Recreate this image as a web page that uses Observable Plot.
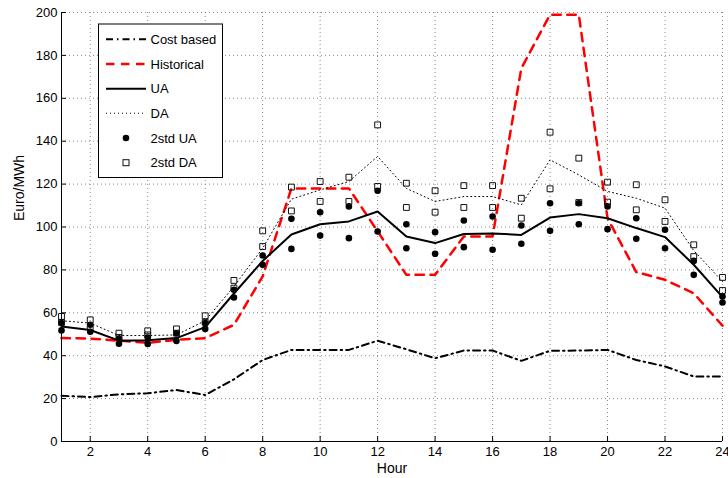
<!DOCTYPE html>
<html>
<head>
<meta charset="utf-8">
<script src="https://cdn.jsdelivr.net/npm/d3@7"></script>
<script src="https://cdn.jsdelivr.net/npm/@observablehq/plot@0.6"></script>
<style>
  html, body { margin: 0; padding: 0; background: #fff; }
  #chart { width: 728px; height: 478px; }
</style>
</head>
<body>
<div id="chart"></div>
<script>
const hours = [1,2,3,4,5,6,7,8,9,10,11,12,13,14,15,16,17,18,19,20,21,22,23,24];
const costBased = [21.3,20.7,22,22.5,24,21.7,29,38,42.7,42.7,42.7,47,43,38.8,42.4,42.4,37.6,42.3,42.4,42.7,38,35,30.3,30.3];
const historical = [48.2,48,47,46,47.4,48.2,54.4,77,118,118,118,98,77.7,77.7,95.6,95.6,174,199,199,104,79,75.4,69.1,54];
const ua = [53.6,52,47,47.2,48.2,53.3,69,84.2,96.5,101.3,102.6,107.2,95.6,92.5,96.7,97,96.3,104.4,106,104.1,99.5,95.3,82.4,67.3];
const da = [56.3,55.2,49.4,49.4,49.7,56.3,72.3,90.1,113,117.3,121.2,132.9,118,111.9,114.2,114.2,110.3,131.3,124.3,116.6,113.4,108.8,89,74.6];
const ua2Upper = [55.2,54.4,47.9,48.5,50.5,55.2,70.7,86.7,103.8,106.9,109.6,116.9,101.3,97.6,103,104.9,100.7,111.1,111.1,109.6,104.1,98.7,84.2,67.6];
const ua2Lower = [51.8,51.2,45.6,45.5,46.9,52.5,67.1,82.4,89.8,96,94.8,97.9,90.1,87.5,90.6,89.4,92.2,98.2,101.3,99,94.5,90.1,77.7,64.8];
const da2Upper = [58.3,56.7,50.5,51.6,52.5,58.6,75.1,98.2,118.6,121.2,123.2,147.6,120.4,116.9,119.3,119.3,113.4,144.2,132.1,120.9,119.7,112.7,91.7,76.5];
const da2Lower = [55.5,53.5,48.5,49.7,50.5,55.6,71.5,90.9,107.5,111.9,111.9,118.9,109.1,106.9,109.1,109.1,104.1,117.8,111.4,111.6,108,102.6,86.2,70.4];
const xTicks = [2,4,6,8,10,12,14,16,18,20,22,24];
const yTicks = [0,20,40,60,80,100,120,140,160,180,200];
const legendLabels = ["Cost based","Historical","UA","DA","2std UA","2std DA"];
const xLabel = "Hour";
const yLabel = "Euro/MWh";

const rows = hours.map((h, i) => ({hour: h, cost: costBased[i], hist: historical[i], ua: ua[i], da: da[i]}));
const pts = (arr) => hours.map((h, i) => ({hour: h, v: arr[i]}));
const uaPts = pts(ua2Upper).concat(pts(ua2Lower));
const daPts = pts(da2Upper).concat(pts(da2Lower));

const font = "'Liberation Sans', Arial, Helvetica, sans-serif";

const chart = Plot.plot({
  width: 728,
  height: 478,
  marginLeft: 61,
  marginRight: 6,
  marginTop: 12,
  marginBottom: 37,
  style: {fontFamily: font, fontSize: "13px", background: "#fff", color: "#000"},
  x: {domain: [1, 24], label: null},
  y: {domain: [0, 200], label: null},
  marks: [
    Plot.gridX(xTicks, {stroke: "#888", strokeOpacity: 1, strokeDasharray: "1,3"}),
    Plot.gridY(yTicks, {stroke: "#888", strokeOpacity: 1, strokeDasharray: "1,3"}),
    Plot.line(rows, {x: "hour", y: "cost", stroke: "#000", strokeWidth: 2, strokeDasharray: "7,4,1.5,4"}),
    Plot.line(rows, {x: "hour", y: "hist", stroke: "#ff0000", strokeWidth: 2.5, strokeDasharray: "8.5,6.5"}),
    Plot.line(rows, {x: "hour", y: "da", stroke: "#000", strokeWidth: 1, strokeDasharray: "1,3"}),
    Plot.line(rows, {x: "hour", y: "ua", stroke: "#000", strokeWidth: 2}),
    Plot.dot(uaPts, {x: "hour", y: "v", r: 3.3, fill: "#000", stroke: "none"}),
    Plot.dot(daPts, {x: "hour", y: "v", r: 3.3, symbol: "square", fill: "none", stroke: "#111", strokeWidth: 1}),
    Plot.ruleX([1], {stroke: "#000", strokeWidth: 1}),
    Plot.ruleY([0], {stroke: "#000", strokeWidth: 1.2}),
    Plot.axisX({ticks: xTicks, tickSize: -5, tickPadding: 10, tickFormat: d => String(d), label: null, fontSize: 13}),
    Plot.axisY({ticks: yTicks, tickSize: -5, tickPadding: 9, tickFormat: d => String(d), label: null, fontSize: 13}),
    Plot.text([xLabel], {text: d => d, frameAnchor: "bottom", dy: 27, fontSize: 14, lineAnchor: "middle"}),
    Plot.text([yLabel], {text: d => d, frameAnchor: "left", dx: -42, dy: -6, rotate: -90, fontSize: 14, lineAnchor: "middle"})
  ]
});

document.getElementById("chart").appendChild(chart);

// Legend box inside the plot area (top-left)
const svg = d3.select(chart);
const lg = svg.append("g").attr("font-family", font).attr("font-size", 13).attr("text-anchor", "start");
lg.append("rect").attr("x", 98.5).attr("y", 24).attr("width", 124).attr("height", 153.5)
  .attr("fill", "#fff").attr("stroke", "#000").attr("stroke-width", 1);
const ys = [39.3, 64, 88.7, 113.2, 138, 162.7];
const styles = [
  {stroke: "#000", w: 2, dash: "7,4,1.5,4"},
  {stroke: "#ff0000", w: 2.5, dash: "8.5,6.5"},
  {stroke: "#000", w: 2, dash: null},
  {stroke: "#000", w: 1, dash: "1,3"}
];
legendLabels.forEach((lab, i) => {
  const y = ys[i];
  if (i < 4) {
    const s = styles[i];
    lg.append("line").attr("x1", 106).attr("x2", 146).attr("y1", y).attr("y2", y)
      .attr("stroke", s.stroke).attr("stroke-width", s.w).attr("stroke-dasharray", s.dash);
  } else if (i === 4) {
    lg.append("circle").attr("cx", 126).attr("cy", y).attr("r", 3.3).attr("fill", "#000");
  } else {
    lg.append("rect").attr("x", 123).attr("y", y - 3).attr("width", 6).attr("height", 6)
      .attr("fill", "none").attr("stroke", "#111").attr("stroke-width", 1);
  }
  lg.append("text").attr("x", 150.5).attr("y", y).attr("dy", "0.35em")
    .attr("text-anchor", "start").attr("fill", "#000").text(lab);
});
</script>
</body>
</html>
